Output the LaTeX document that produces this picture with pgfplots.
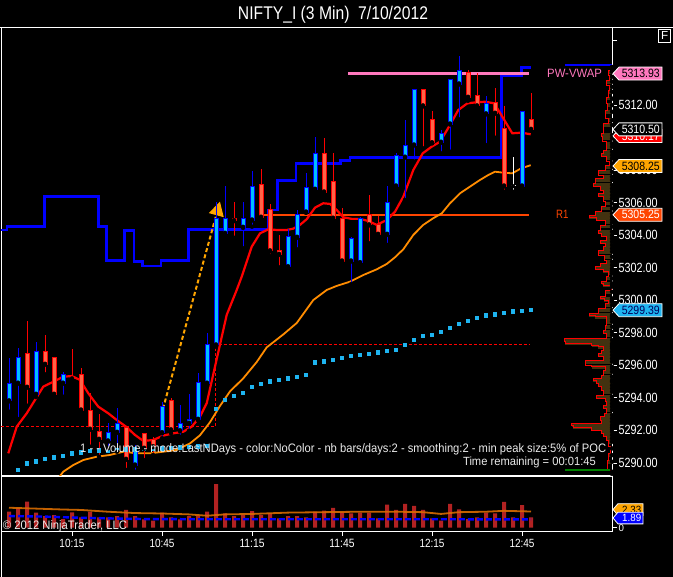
\documentclass[border=0pt]{standalone}
\usepackage{pgfplots}
\pgfplotsset{compat=1.18}
\usepackage{pgfplotstable}
\usepackage{graphicx}
\usepackage{fontspec}
\setmainfont{Liberation Sans}
\usetikzlibrary{arrows.meta}

\definecolor{upfill}{RGB}{0,191,255}
\definecolor{upline}{RGB}{0,0,255}
\definecolor{dnfill}{RGB}{255,99,71}
\definecolor{dnline}{RGB}{255,0,0}
\definecolor{stepblue}{RGB}{0,0,255}
\definecolor{maorange}{RGB}{255,140,0}
\definecolor{pwpink}{RGB}{255,120,190}
\definecolor{rone}{RGB}{255,69,0}
\definecolor{dotblue}{RGB}{30,180,240}
\definecolor{volred}{RGB}{178,34,34}
\definecolor{profbrown}{RGB}{66,50,16}
\definecolor{arrowor}{RGB}{255,165,0}
\definecolor{flagnavy}{RGB}{0,0,90}
\definecolor{txtgrey}{RGB}{235,235,235}

\pgfplotstableread{
k o h l c
-7 5293.81 5296.43 5293.15 5294.90
-6 5294.90 5297.05 5292.70 5296.49
-4 5294.22 5297.42 5294.05 5296.84
-1 5294.90 5295.61 5294.07 5295.45
4 5291.35 5292.44 5290.90 5291.86
5 5291.88 5293.36 5290.69 5292.41
7 5289.87 5291.10 5289.46 5290.69
10 5291.86 5293.76 5291.52 5293.46
12 5291.98 5293.56 5291.61 5292.44
13 5292.44 5294.22 5291.98 5292.68
14 5292.68 5295.51 5292.64 5294.96
15 5294.90 5297.97 5294.85 5297.29
16 5297.25 5306.06 5297.13 5305.04
17 5304.11 5307.02 5304.01 5305.04
19 5304.48 5306.06 5303.19 5305.04
20 5304.93 5307.94 5304.52 5306.98
24 5302.06 5304.36 5302.02 5303.91
25 5303.87 5305.55 5303.13 5305.28
26 5305.42 5307.80 5305.38 5306.92
27 5306.82 5310.02 5306.78 5309.03
31 5302.41 5303.87 5300.98 5303.81
32 5302.31 5305.10 5302.27 5305.04
35 5304.05 5307.02 5303.40 5306.00
36 5307.02 5309.03 5306.98 5308.87
37 5308.79 5311.08 5306.16 5309.50
38 5309.54 5312.97 5308.52 5312.97
41 5309.71 5310.46 5309.03 5310.24
42 5310.83 5313.58 5309.13 5313.58
43 5313.29 5315.01 5311.12 5314.11
46 5311.45 5312.55 5309.54 5312.10
50 5307.02 5311.63 5306.98 5311.63
}\upbars

\pgfplotstableread{
k o h l c
-5 5296.74 5298.72 5293.52 5294.65
-3 5296.84 5297.86 5295.45 5296.06
-2 5296.49 5296.49 5294.07 5294.22
0 5295.30 5296.98 5295.10 5295.16
1 5295.45 5295.82 5293.21 5293.25
2 5293.25 5294.28 5291.00 5292.07
3 5291.92 5292.99 5290.38 5291.45
6 5292.19 5292.23 5289.57 5290.22
8 5291.82 5291.86 5290.18 5290.90
9 5291.45 5291.58 5290.49 5291.00
11 5293.81 5293.97 5291.82 5292.03
18 5305.04 5306.06 5303.84 5304.89
21 5307.13 5308.07 5305.04 5305.10
22 5305.59 5305.92 5302.72 5303.03
23 5303.05 5304.01 5302.02 5302.82
28 5309.03 5309.95 5306.47 5306.65
29 5307.29 5309.03 5304.97 5305.04
30 5305.04 5305.65 5302.37 5302.41
33 5305.28 5306.47 5303.50 5304.63
34 5304.63 5305.18 5304.01 5304.05
39 5312.97 5312.97 5309.34 5311.94
40 5311.12 5311.63 5309.65 5309.68
44 5313.99 5314.15 5312.26 5312.47
45 5312.60 5313.95 5311.90 5311.94
47 5312.18 5313.06 5309.99 5311.49
48 5310.57 5311.96 5306.67 5307.02
51 5311.08 5312.72 5310.46 5310.50
}\dnbars

\pgfplotstableread{
k o h l c
49 5307.04 5308.82 5306.67 5307.04
}\dojibar

\pgfplotstableread{
k v
-7 3.60
-6 4.50
-5 5.86
-4 3.38
-3 2.63
-2 2.86
-1 1.96
0 3.45
1 2.32
2 3.60
3 2.32
4 2.32
5 2.63
6 3.99
7 2.63
8 1.87
9 1.58
10 3.38
11 2.32
12 1.87
13 2.63
14 2.63
15 3.60
16 9.84
17 3.22
18 2.63
19 2.86
20 3.76
21 2.86
22 3.22
23 2.09
24 2.63
25 2.63
26 2.32
27 3.60
28 3.83
29 4.44
30 3.45
31 3.22
32 3.38
33 3.38
34 2.09
35 5.18
36 3.99
37 5.34
38 4.89
39 3.99
40 2.09
41 1.58
42 5.34
43 4.12
44 1.96
45 2.32
46 3.38
47 3.22
48 5.79
49 2.32
50 5.11
51 2.32
}\voltab

% volume profile: band width w (chart pixels) below price p
\pgfplotstableread{
w p
0 5314.45
2 5314.30
4 5314.15
3 5313.84
6 5313.54
3 5313.23
4 5312.92
5.3 5312.50
4.3 5312.10
7 5311.69
3.7 5311.18
8.7 5310.88
11 5310.26
9.7 5310.05
6 5309.74
5.3 5309.54
8.7 5309.23
10.3 5309.03
5.3 5308.82
3 5308.52
7 5308.31
13.7 5308.00
8.7 5307.70
17 5307.50
18.7 5307.19
12 5306.98
8.7 5306.78
13.7 5306.57
8.7 5306.36
7 5306.06
10.3 5305.75
17 5305.44
22.7 5305.24
15.3 5305.07
7 5304.89
12 5304.63
13.7 5304.32
10.3 5304.11
5.3 5303.91
12 5303.70
7 5303.50
8.7 5303.29
13.7 5303.09
7.7 5302.78
5.3 5302.47
12 5302.27
17 5302.06
8.7 5301.92
3.7 5301.75
5.3 5301.45
10.3 5301.14
8.7 5301.04
0.5 5300.94
6.3 5300.63
12 5300.22
7.7 5300.12
3.7 5300.02
6.3 5299.81
13.7 5299.50
22.7 5299.20
17 5299.09
5.3 5298.99
5.3 5298.79
7 5298.48
8.7 5298.17
5.3 5297.97
47.7 5297.66
47 5297.45
20.3 5297.35
13.7 5297.25
8.7 5297.14
10.3 5296.94
13.7 5296.74
8.7 5296.53
27 5296.33
20.3 5296.02
7 5295.92
8.7 5295.71
10.3 5295.41
18.7 5295.20
15.3 5295.10
13.7 5294.89
10.3 5294.69
8.7 5294.48
15.3 5294.18
7 5293.97
5.3 5293.76
8.7 5293.56
5.3 5293.36
7.7 5293.05
12 5292.84
10.3 5292.64
40.3 5292.44
38.7 5292.29
20.3 5292.19
10.3 5292.02
8.7 5291.82
5.3 5291.61
3.7 5291.41
2 5291.00
3.7 5290.59
4.3 5290.18
2 5289.57
0 5289.44
}\proftab

\newcommand\flag[5]{%
  \draw[fill=#2,draw=white,line width=0.8pt] ([xshift=1pt]#1) -- ++(6,6.5) -- ++(43,0) -- ++(0,-13) -- ++(-43,0) -- cycle;
  \node[inner sep=0pt,text=#3] at ([xshift=28.8pt]#1) {\resizebox{#5}{8.4pt}{#4}};}
\newcommand\vflag[4]{%
  \draw[fill=#2,draw=white,line width=0.8pt] ([xshift=1pt]#1) -- ++(5,5.85) -- ++(25,0) -- ++(0,-11.7) -- ++(-25,0) -- cycle;
  \node[inner sep=0pt,text=#3] at ([xshift=19.7pt]#1) {\resizebox{19pt}{7.3pt}{#4}};}

\begin{document}
\begin{tikzpicture}[x=1pt,y=1pt]
\fill[black] (0,0) rectangle (673,577);
\useasboundingbox (0,0) rectangle (673,577);

\begin{axis}[at={(1pt,101.3pt)}, anchor=south west, x=9pt, y=16.27pt,
  xmin=-7.889, xmax=60, ymin=5289.216, ymax=5316.764,
  axis line style={white, line width=0.9pt},
  xtick=\empty,
  ytick={5290,5292,5294,5296,5298,5300,5302,5304,5306,5308,5310,5312,5314},
  extra y ticks={5316}, extra y tick labels={},
  ytick pos=right, yticklabel pos=right,
  tick align=outside, major tick length=5pt,
  tick style={white, line width=0.8pt},
  scaled y ticks=false,
  /pgf/number format/assume math mode=true,
  yticklabel={\resizebox{39pt}{9.3pt}{\pgfmathprintnumber[fixed,fixed zerofill,precision=2,1000 sep={}]{\tick}}},
  yticklabel style={text=white, inner sep=1.5pt},
]
% volume profile on the right edge
\addplot[only marks, mark=none, error bars/.cd, x dir=minus, x explicit, error mark=none,
  error bar style={draw=profbrown, line width=3.6pt}]
  table[x expr=60, y expr={\thisrow{p}-0.11}, x error expr={\thisrow{w}/9}] {\proftab};
\addplot[const plot mark right, draw=red, line width=0.7pt]
  table[x expr={60-\thisrow{w}/9}, y=p] {\proftab};
% blue step line
\addplot[const plot, stepblue, line width=2.6pt] coordinates {
(-7.889,5304.32) (-7.22,5304.52) (-3.08,5306.36) (2.92,5304.52) (3.86,5302.43)
(5.81,5304.27) (6.89,5302.37) (7.86,5302.10) (9.89,5302.43) (12.92,5304.36)
(21.81,5305.55) (22.86,5307.35) (24.89,5308.39) (29.86,5308.58) (30.89,5308.76)
(47.74,5313.80) (49.97,5314.29) (50.97,5314.29)};
\addplot[stepblue, line width=2.6pt] coordinates {(54.78,5314.46) (60,5314.46)};
% PW-VWAP and R1
\addplot[pwpink, line width=3pt] coordinates {(30.7,5313.93) (50.8,5313.93)};
\addplot[rone, line width=2.4pt] coordinates {(21.1,5305.25) (50.8,5305.25)};
% red dashed step
\addplot[red, line width=0.9pt, dash pattern=on 3pt off 2pt] coordinates {
(-7.889,5292.22) (15.9,5292.22) (15.9,5297.29) (50.8,5297.29)};
% dots
\addplot[only marks, mark=square*, mark size=1.75pt, mark options={draw=dotblue, fill=dotblue, line width=0pt}] coordinates {
(-6,5289.57) (-5,5289.98) (-4,5290.08) (-3,5290.24) (-2,5290.33) (-1,5290.44) (0,5290.59)
(1,5290.63) (2,5290.72) (3,5290.75) (4,5290.77) (5,5290.80) (6,5290.82) (7,5290.84)
(8,5290.86) (9,5290.88) (10,5290.90) (11,5290.92) (12,5290.95) (13,5290.98) (14,5291.01)
(15,5291.04) (16,5293.32) (17,5293.87) (18,5294.11) (19,5294.30) (20,5294.67) (21,5294.85)
(22,5294.99) (23,5295.10) (24,5295.20) (25,5295.28) (26,5295.41) (27,5296.16) (28,5296.22)
(29,5296.33) (30,5296.45) (31,5296.57) (32,5296.64) (33,5296.71) (34,5296.78) (35,5296.88)
(36,5296.94) (37,5297.25) (38,5297.56) (39,5297.80) (40,5297.86) (41,5298.05) (42,5298.29)
(43,5298.54) (44,5298.72) (45,5298.91) (46,5299.05) (47,5299.11) (48,5299.22) (49,5299.30)
(50,5299.34) (51,5299.40)};
% orange slow MA
\addplot[maorange, line width=1.8pt] coordinates {
(-1.6,5289.0) (-0.97,5289.46) (0.14,5289.87) (1.26,5290.18) (2.74,5290.38) (4.22,5290.49)
(5.7,5290.69) (7.19,5290.59) (8.67,5290.59) (10.14,5290.69) (11.63,5290.80) (13.11,5291.2)
(14.22,5291.7) (15.33,5292.5) (16.44,5293.5) (17.56,5294.4) (19.03,5295.2) (20.52,5296.2)
(21.63,5297.1) (23.48,5297.9) (24.97,5298.6) (26.81,5300.01) (28.3,5300.63) (29.41,5300.88)
(30.89,5301.14) (32.37,5301.55) (33.86,5301.90) (34.97,5302.23) (35.89,5302.64) (36.81,5303.13)
(37.92,5304.01) (39.03,5304.63) (40.14,5305.04) (41.08,5305.34) (42.0,5305.96) (43.11,5306.57)
(44.22,5306.98) (45.33,5307.39) (46.26,5307.70) (47.0,5307.90) (47.92,5307.84) (48.92,5307.80)
(49.92,5308.11) (50.97,5308.30)};
% red fast MA
\addplot[red, line width=2.2pt] coordinates {
(-7.08,5290.59) (-6.14,5292.23) (-5.03,5293.05) (-4.11,5293.87) (-3.19,5294.69) (-2.08,5294.99)
(-0.97,5295.30) (-0.03,5295.34) (0.89,5295.10) (1.81,5294.28) (2.92,5293.46) (4.03,5293.05)
(4.97,5292.64) (6.0,5292.23) (7.0,5291.72) (7.92,5291.35) (9.03,5291.41) (10.14,5291.68)
(11.26,5291.82) (12.37,5291.92) (13.3,5292.23) (14.22,5292.84) (14.97,5293.67) (15.89,5295.92)
(17.19,5299.10) (18.3,5300.63) (18.86,5301.45) (19.97,5303.29) (20.89,5304.11) (21.81,5304.36)
(22.74,5304.32) (23.86,5304.32) (24.59,5304.40) (25.33,5304.63) (26.08,5304.98) (27.0,5305.69)
(27.92,5305.96) (28.67,5305.92) (29.41,5305.55) (30.14,5305.10) (31.08,5305.00) (32.0,5305.00)
(32.92,5304.87) (33.86,5304.63) (34.97,5304.93) (35.89,5305.44) (36.81,5306.36) (37.92,5308.00)
(38.97,5309.03) (39.97,5309.44) (40.89,5309.74) (42.0,5310.77) (42.92,5311.69) (43.92,5312.10)
(44.97,5312.17) (45.92,5312.20) (46.92,5312.10) (47.92,5311.18) (48.92,5310.26) (49.92,5310.30)
(50.97,5310.20)};
% dashed orange arrow
\addplot[arrowor, line width=2pt, dash pattern=on 4pt off 2.5pt, -{Triangle[width=15pt,length=14pt]}] coordinates {(9.92,5292.95) (16.44,5306.06)};
% wicks
\addplot[only marks, mark=none, error bars/.cd, y dir=plus, y explicit, error mark=none,
  error bar style={draw=upline, line width=1pt}]
  table[x=k, y=l, y error plus expr={\thisrow{h}-\thisrow{l}}] {\upbars};
\addplot[only marks, mark=none, error bars/.cd, y dir=plus, y explicit, error mark=none,
  error bar style={draw=dnline, line width=1pt}]
  table[x=k, y=l, y error plus expr={\thisrow{h}-\thisrow{l}}] {\dnbars};
\addplot[only marks, mark=none, error bars/.cd, y dir=plus, y explicit, error mark=none,
  error bar style={draw=white, line width=1pt}]
  table[x=k, y=l, y error plus expr={\thisrow{h}-\thisrow{l}}] {\dojibar};
% bodies
\addplot[only marks, mark=none, error bars/.cd, y dir=plus, y explicit, error mark=none,
  error bar style={draw=upline, line width=5pt}]
  table[x=k, y expr={\thisrow{o}-0.031}, y error plus expr={\thisrow{c}-\thisrow{o}+0.062}] {\upbars};
\addplot[only marks, mark=none, error bars/.cd, y dir=plus, y explicit, error mark=none,
  error bar style={draw=upfill, line width=3pt}]
  table[x=k, y expr={\thisrow{o}+0.031}, y error plus expr={\thisrow{c}-\thisrow{o}-0.062}] {\upbars};
\addplot[only marks, mark=none, error bars/.cd, y dir=plus, y explicit, error mark=none,
  error bar style={draw=dnline, line width=5pt}]
  table[x=k, y expr={\thisrow{c}-0.031}, y error plus expr={\thisrow{o}-\thisrow{c}+0.062}] {\dnbars};
\addplot[only marks, mark=none, error bars/.cd, y dir=plus, y explicit, error mark=none,
  error bar style={draw=dnfill, line width=3pt}]
  table[x=k, y expr={\thisrow{c}+0.031}, y error plus expr={\thisrow{o}-\thisrow{c}-0.062}] {\dnbars};
\addplot[only marks, mark=none, error bars/.cd, y dir=plus, y explicit, error mark=none,
  error bar style={draw=white, line width=5pt}]
  table[x=k, y expr={\thisrow{o}-0.031}, y error plus expr={0.062}] {\dojibar};
\coordinate (fA) at (axis cs:60,5313.93);
\coordinate (fB) at (axis cs:60,5310.50);
\coordinate (fC) at (axis cs:60,5310.10);
\coordinate (fD) at (axis cs:60,5308.25);
\coordinate (fE) at (axis cs:60,5305.25);
\coordinate (fF) at (axis cs:60,5299.39);
\end{axis}

\begin{axis}[at={(1pt,46pt)}, anchor=south west, x=9pt, y=4.44pt,
  xmin=-7.889, xmax=60, ymin=-0.74, ymax=11.65,
  axis line style={white, line width=0.9pt},
  xtick={0,10,20,30,40,50},
  xticklabels={\resizebox{25pt}{8.3pt}{10:15},\resizebox{25pt}{8.3pt}{10:45},\resizebox{25pt}{8.3pt}{11:15},\resizebox{25pt}{8.3pt}{11:45},\resizebox{25pt}{8.3pt}{12:15},\resizebox{25pt}{8.3pt}{12:45}},
  xtick pos=left, xticklabel style={text=white, inner sep=3pt},
  ytick={0}, ytick pos=right, yticklabel pos=right,
  yticklabel={\resizebox{!}{6.8pt}{0}},
  yticklabel style={text=white, inner sep=1.5pt},
  tick align=outside, major tick length=5pt,
  tick style={white, line width=0.8pt},
]
\addplot[ybar, bar width=4pt, fill=volred, draw=none] table[x=k,y=v] {\voltab};
\addplot[orange!85!black, line width=1.8pt, opacity=0.9] coordinates {
(-7,4.5) (-4,4.3) (-1,4.1) (1,4.0) (4,3.6) (7,3.3) (10,3.2) (13,3.0) (15,2.7) (17,3.0)
(20,3.1) (24,3.4) (28,3.5) (32,3.6) (36,3.6) (39,3.5) (41,3.1) (43,3.5) (46,3.6) (48,3.8) (51,3.65)};
\addplot[stepblue, line width=2.4pt, dash pattern=on 6pt off 3pt] coordinates {
(-7,2.63) (-3,2.5) (0,2.3) (4,2.1) (8,1.95) (14,1.9) (30,1.9) (51,1.89)};
\coordinate (vA) at (axis cs:60,4.1);
\coordinate (vB) at (axis cs:60,2.18);
\end{axis}

\flag{fA}{pwpink}{black}{5313.93}{38pt}
\flag{fC}{red}{white}{5310.17}{38pt}
\flag{fB}{black}{white}{5310.50}{38pt}
\flag{fD}{arrowor}{black}{5308.25}{38pt}
\flag{fE}{rone}{white}{5305.25}{38pt}
\flag{fF}{dotblue}{flagnavy}{5299.39}{38pt}
\vflag{vA}{arrowor}{black}{2.33}
\vflag{vB}{stepblue}{white}{1.89}

\draw[white, line width=0.9pt] (0,549.5) -- (673,549.5);
\draw[white, line width=0.9pt] (1,0) -- (1,46);
\draw[green!50!black, line width=2pt] (565,106.5) -- (610,106.5);
\draw[white, line width=0.8pt] (658.8,535) rectangle (670.4,547.7);
\node[text=white, inner sep=0pt] at (664.6,541.3) {\resizebox{!}{8pt}{F}};

\node[text=white, inner sep=0pt, anchor=base] at (333,557.7) {\resizebox{190pt}{13.3pt}{NIFTY\_I (3 Min)\ \ 7/10/2012}};
\node[text=txtgrey, inner sep=0pt, anchor=base west] at (80,124.3) {\resizebox{526pt}{8.9pt}{1 - - Volume - mode:LastNDays - color:NoColor - nb bars/days:2 - smoothing:2 - min peak size:5\% of POC}};
\node[text=txtgrey, inner sep=0pt, anchor=base east] at (596,111.3) {\resizebox{132.7pt}{8.6pt}{Time remaining = 00:01:45}};
\node[text=txtgrey, inner sep=0pt, anchor=base west] at (2.7,47.7) {\resizebox{124pt}{8.9pt}{© 2012 NinjaTrader, LLC}};
\node[text=pwpink, inner sep=0pt, anchor=base west] at (547,499.7) {\resizebox{54.7pt}{8.3pt}{PW-VWAP}};
\node[text=rone, inner sep=0pt, anchor=base west] at (556,358) {\resizebox{12.3pt}{8.3pt}{R1}};
\end{tikzpicture}
\end{document}
